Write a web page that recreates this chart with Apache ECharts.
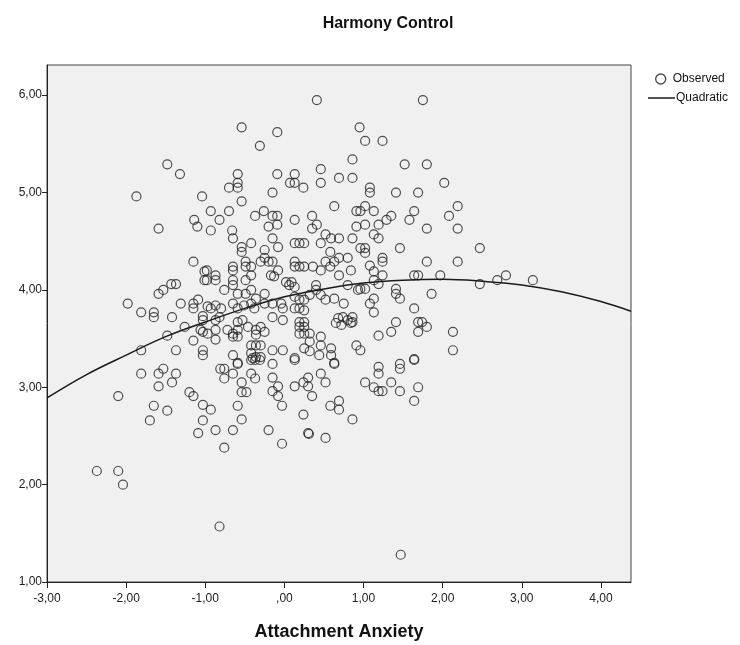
<!DOCTYPE html>
<html>
<head>
<meta charset="utf-8">
<script src="https://cdn.jsdelivr.net/npm/echarts@6/dist/echarts.min.js"></script>
<style>
  html, body { margin: 0; padding: 0; background: #fff; }
  #chart { width: 740px; height: 645px; }
</style>
</head>
<body>
<div id="chart"></div>
<script>
// Observed cases: attachment anxiety (x) and harmony control (y)
const anxiety = [
  0.41, 1.75, -0.54, -0.09, -0.31, 0.95, 1.02, 1.24, 0.86, 0.86, 1.52, 1.80, 2.02, 1.08, 1.08, 1.41, 1.69, 2.19, 2.08, 0.91,
  0.96, 1.13, 1.02, 1.35, 1.29, 1.64, 1.58, 0.91, 1.02, 1.19, 1.80, 2.19, -0.59, -0.59, -0.59, -0.70, -0.09, 0.13, 0.07, 0.13,
  0.24, 0.46, 0.46, 0.69, -0.15, -1.04, -0.54, -0.93, -0.70, -0.82, -1.14, -0.37, -0.26, -0.15, -0.09, -0.09, -0.20, 0.13, 0.35, 0.41,
  0.35, 0.63, -0.66, -0.93, -1.10, -1.48, -1.32, -1.87, -1.59,
  -1.15, -1.01, -1.01, -1.43, -1.37, -1.53, -1.59, -1.98, -1.81, -1.65, -1.65, -1.42, -1.31, -1.15, -1.15, -1.09, -1.03, -1.26, -1.48, -1.81,
  -1.37, -1.15, -1.03, -1.03, -1.03,
  -1.81, -1.59, -1.53, -1.37, -1.42, -1.59, -2.10, -1.20, -1.15, -1.03, -1.65, -1.48, -1.70, -1.03, -1.09, -2.37, -2.10, -2.04,
  -0.93, -0.87, -0.76, -0.65, -0.54, -0.59, -0.54, -0.54, -0.48, -0.42, -0.37, -0.65, -0.81, -0.76, -0.76, -0.59, -0.42, -0.37, -0.31, -0.15,
  -0.15, -0.15, -0.08, -0.08, -0.03, -0.20, -0.03, 0.13, 0.13, 0.24, 0.30, 0.30, 0.35, 0.24, 0.30, 0.31, 0.46, 0.52, 0.63, 0.58,
  0.69, 0.69, 0.52, 0.86,
  1.19, 1.19, 1.46, 1.46, 1.64, 1.02, 1.13, 1.19, 1.24, 1.35, 1.46, 1.69, 1.64,
  1.13, 1.19, 0.86, 1.46, 2.47, 0.96, 1.02, 1.02, 1.24, 1.24, 1.80, 2.19, 1.08, 1.13, 1.24, 1.64, 1.69, 1.97, 2.80, 2.69,
  2.47, 1.13, 1.19, 0.96, 1.02, 1.41, 1.41, 1.46, 1.86, 1.13, 1.08, 1.13, 1.64, 0.86, 0.86, 1.41, 1.69, 1.74, 1.80, 1.69,
  1.35, 1.19, 2.13, 2.13, 0.91, 0.96, 1.64, 3.14,
  -0.65, -0.15, 0.52, 0.59, 0.69, -0.42, -0.54, -0.54, 0.13, 0.19, 0.25, 0.46, -0.08, 0.58, 0.69, 0.80, -0.25, -0.25, -0.20, -0.15,
  -0.30, -0.49, -0.49, -0.42, -0.98, -0.98, -0.87, -0.87, -0.65, -0.65, -0.65, -0.65, 0.13, 0.13, 0.19, 0.25, 0.36, 0.46, 0.52, 0.58,
  0.63, 0.69, 0.84, -0.08, -0.17, -0.13, -0.42, -0.49, 0.02, 0.06, 0.09, 0.13, -0.76, -0.59, -0.49, -0.42, -0.36, -0.25, -0.97, -0.93,
  -0.87, -0.80, -0.65, -0.59, -0.51, -0.42, -0.38, -0.25, -0.15, -0.04, -0.02, 0.13, 0.19, 0.25, 0.32, 0.40, 0.40, 0.46, 0.52, 0.63,
  0.75, 0.80, 0.93, 0.13, 0.19, 0.25, -1.03, -0.87, -0.82, -0.59, -0.53, -0.46, -0.15, -0.02, 0.19, 0.19, 0.25, 0.25, 0.68, 0.74,
  0.80, 0.84, 0.72, 0.65, -1.06, -0.97, -0.87, -0.72, -0.65, -0.59, -0.36, -0.36, -0.30, -0.25, 0.19, 0.25, 0.32, -0.87, -0.65, -0.59,
  -0.42, -0.36, -0.30, -0.42, -0.36, -0.30, -0.40, -0.15, -0.02, 0.13, 0.25, 0.32, 0.46, 0.46, 0.59, 0.59, 0.63, 0.44, 0.32, -0.65,
  -0.59,
  -0.82, 1.47
];
const harmony = [
  5.95, 5.95, 5.67, 5.62, 5.48, 5.67, 5.53, 5.53, 5.34, 5.15, 5.29, 5.29, 5.10, 5.05, 5.00, 5.00, 5.00, 4.86, 4.76, 4.81,
  4.81, 4.81, 4.86, 4.76, 4.72, 4.81, 4.72, 4.65, 4.67, 4.67, 4.63, 4.63, 5.19, 5.10, 5.05, 5.05, 5.19, 5.19, 5.10, 5.10,
  5.05, 5.24, 5.10, 5.15, 5.00, 4.96, 4.91, 4.81, 4.81, 4.72, 4.72, 4.76, 4.81, 4.76, 4.76, 4.67, 4.65, 4.72, 4.76, 4.67,
  4.63, 4.86, 4.61, 4.61, 4.65, 5.29, 5.19, 4.96, 4.63,
  4.29, 4.19, 4.10, 4.06, 4.06, 4.00, 3.96, 3.86, 3.77, 3.77, 3.72, 3.72, 3.86, 3.86, 3.81, 3.90, 3.73, 3.62, 3.53, 3.38,
  3.38, 3.48, 3.57, 3.38, 3.33,
  3.14, 3.14, 3.19, 3.14, 3.05, 3.01, 2.91, 2.95, 2.91, 2.82, 2.81, 2.76, 2.66, 2.66, 2.53, 2.14, 2.14, 2.00,
  2.77, 2.56, 2.38, 2.56, 2.67, 2.81, 3.05, 2.95, 2.95, 3.14, 3.09, 3.14, 3.19, 3.19, 3.09, 3.24, 3.28, 3.28, 3.28, 3.24,
  3.10, 2.96, 3.01, 2.91, 2.81, 2.56, 2.42, 3.01, 3.28, 3.05, 3.10, 3.01, 2.91, 2.72, 2.53, 2.52, 3.14, 3.05, 3.24, 2.81,
  2.86, 2.77, 2.48, 2.67,
  3.21, 3.14, 3.24, 3.19, 3.28, 3.05, 3.00, 2.96, 2.96, 3.05, 2.96, 3.00, 2.86,
  4.57, 4.53, 4.53, 4.43, 4.43, 4.43, 4.43, 4.38, 4.33, 4.29, 4.29, 4.29, 4.25, 4.19, 4.15, 4.15, 4.15, 4.15, 4.15, 4.10,
  4.06, 4.10, 4.06, 4.01, 4.01, 4.01, 3.96, 3.91, 3.96, 3.91, 3.86, 3.77, 3.81, 3.72, 3.67, 3.67, 3.67, 3.67, 3.62, 3.57,
  3.57, 3.53, 3.57, 3.38, 3.43, 3.38, 3.29, 4.10,
  4.53, 4.53, 4.57, 4.53, 4.53, 4.48, 4.44, 4.39, 4.48, 4.48, 4.48, 4.48, 4.44, 4.39, 4.33, 4.33, 4.41, 4.33, 4.29, 4.29,
  4.29, 4.29, 4.24, 4.24, 4.20, 4.10, 4.15, 4.10, 4.24, 4.20, 4.10, 4.05, 4.29, 4.24, 4.24, 4.24, 4.24, 4.20, 4.29, 4.24,
  4.29, 4.15, 4.20, 4.20, 4.15, 4.14, 4.15, 4.10, 4.08, 4.05, 4.08, 4.03, 4.00, 3.96, 3.96, 4.00, 3.91, 3.96, 3.83, 3.81,
  3.84, 3.81, 3.86, 3.81, 3.84, 3.86, 3.81, 3.86, 3.86, 3.86, 3.81, 3.93, 3.90, 3.90, 3.95, 4.05, 4.00, 3.95, 3.90, 3.91,
  3.86, 4.05, 4.00, 3.81, 3.81, 3.79, 3.69, 3.69, 3.72, 3.67, 3.69, 3.62, 3.72, 3.69, 3.67, 3.62, 3.62, 3.67, 3.71, 3.72,
  3.69, 3.66, 3.64, 3.66, 3.59, 3.55, 3.59, 3.59, 3.55, 3.59, 3.59, 3.54, 3.62, 3.57, 3.55, 3.55, 3.55, 3.49, 3.52, 3.52,
  3.43, 3.43, 3.43, 3.35, 3.31, 3.31, 3.30, 3.38, 3.38, 3.30, 3.40, 3.47, 3.52, 3.43, 3.40, 3.33, 3.25, 3.33, 3.37, 3.33,
  3.25,
  1.57, 1.28
];

// Quadratic fit line, sampled along the x axis
const fitX = [-3.00, -2.50, -2.00, -1.50, -1.00, -0.50, 0.00, 0.50, 1.00, 1.50, 2.00, 2.50, 3.00, 3.50, 4.00, 4.38];
const fitY = [2.89, 3.13, 3.33, 3.52, 3.67, 3.81, 3.93, 4.01, 4.07, 4.10, 4.11, 4.09, 4.05, 3.98, 3.88, 3.78];

const xTicks = [-3, -2, -1, 0, 1, 2, 3, 4];
const yTicks = [1, 2, 3, 4, 5, 6];

const observed = anxiety.map((x, i) => [x, harmony[i]]);
const fitted = fitX.map((x, i) => [x, fitY[i]]);

// SPSS-style decimals: comma separator, no leading zero
function fmt(v) {
  let s = Math.abs(v).toFixed(2).replace('.', ',');
  if (s.startsWith('0,')) s = s.slice(1);
  return (v < 0 ? '-' : '') + s;
}

const FONT = '"Liberation Sans", Arial, sans-serif';
const chart = echarts.init(document.getElementById('chart'), null, { renderer: 'canvas' });

chart.setOption({
  backgroundColor: '#ffffff',
  animation: false,
  textStyle: { fontFamily: FONT },
  title: {
    text: 'Harmony Control',
    left: 383, top: 11, textAlign: 'center',
    textStyle: { fontFamily: FONT, fontSize: 16, fontWeight: 'bold', color: '#111' }
  },
  legend: [
    {
      data: [{ name: 'Observed', icon: 'circle' }],
      left: 650, top: 68, orient: 'vertical',
      itemWidth: 10, itemHeight: 10, itemGap: 4,
      itemStyle: { borderWidth: 1.4, borderColor: '#222' },
      textStyle: { fontFamily: FONT, fontSize: 12, color: '#111', padding: [0, 0, 0, 2] }
    },
    {
      data: [{ name: 'Quadratic', icon: 'rect' }],
      left: 643, top: 87, orient: 'vertical',
      itemWidth: 27, itemHeight: 1.5,
      itemStyle: { color: '#1a1a1a', borderWidth: 0 },
      textStyle: { fontFamily: FONT, fontSize: 12, color: '#111', padding: [0, 0, 0, -4] }
    }
  ],
  grid: {
    left: 47, top: 65, right: 109, bottom: 63,
    outerBoundsMode: 'none',
    show: true, backgroundColor: '#f0f0f0', borderColor: '#444', borderWidth: 1
  },
  xAxis: {
    type: 'value', min: -3, max: 4.38, interval: 1,
    name: 'Attachment Anxiety', nameLocation: 'middle', nameGap: 41,
    nameTextStyle: { fontFamily: FONT, fontSize: 18, fontWeight: 'bold', color: '#111' },
    axisLine: { onZero: false, lineStyle: { color: '#222', width: 1 } },
    axisTick: { show: true, inside: false, length: 6, customValues: xTicks, lineStyle: { color: '#222' } },
    axisLabel: { customValues: xTicks, formatter: fmt, margin: 11, fontSize: 12, color: '#222', fontFamily: FONT },
    splitLine: { show: false }
  },
  yAxis: {
    type: 'value', min: 1, max: 6.31, interval: 1,
    axisLine: { onZero: false, lineStyle: { color: '#222', width: 1 } },
    axisTick: { show: true, inside: false, length: 5, customValues: yTicks, lineStyle: { color: '#222' } },
    axisLabel: { customValues: yTicks, formatter: fmt, margin: 5, fontSize: 12, color: '#222', fontFamily: FONT },
    splitLine: { show: false }
  },
  series: [
    {
      name: 'Observed', type: 'scatter', data: observed,
      symbol: 'circle', symbolSize: 9,
      itemStyle: { color: 'rgba(0,0,0,0)', borderColor: '#262626', borderWidth: 1.2 },
      z: 3
    },
    {
      name: 'Quadratic', type: 'line', data: fitted,
      smooth: 0.4, symbol: 'none', showSymbol: false,
      lineStyle: { color: '#1a1a1a', width: 1.5 },
      itemStyle: { color: '#1a1a1a' },
      z: 4
    }
  ]
});
</script>
</body>
</html>
